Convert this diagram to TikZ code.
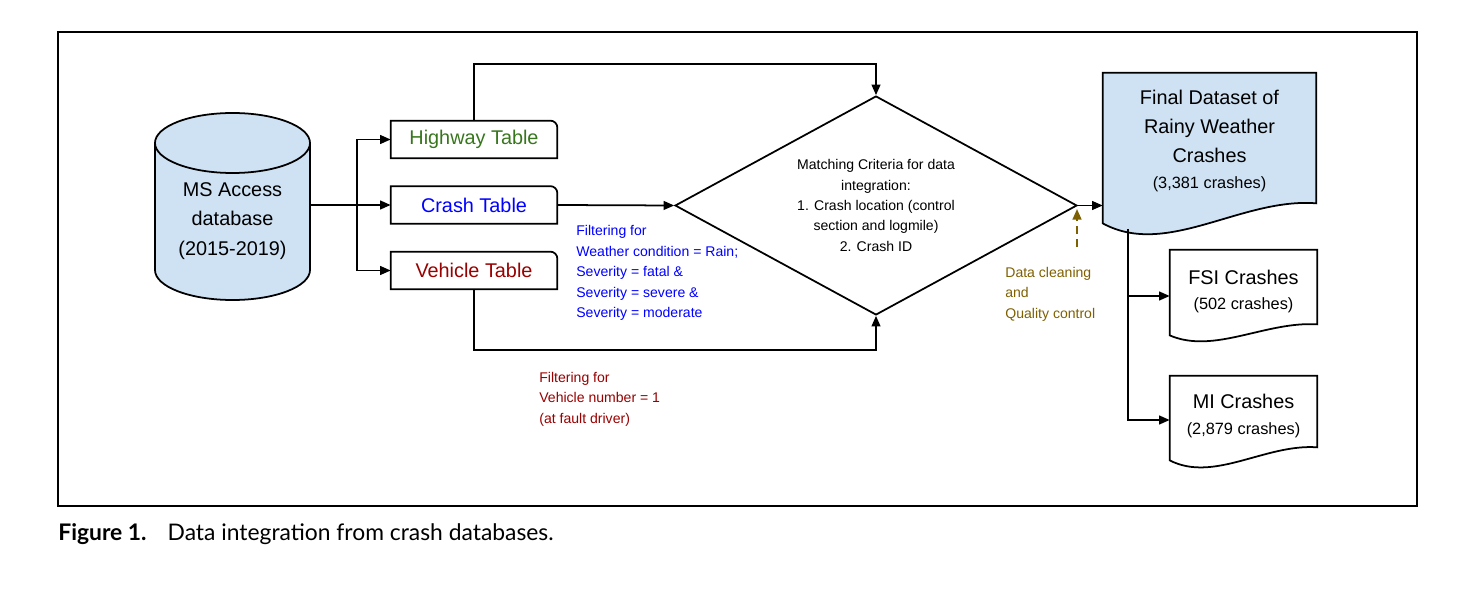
\documentclass[tikz,border=0pt]{standalone}
\usepackage{fontspec}
\setmainfont{Liberation Sans}
\newfontfamily\capfont{Lato}
\usetikzlibrary{calc,shapes.geometric,arrows.meta,backgrounds}
\definecolor{dbblue}{HTML}{CFE2F3}
\definecolor{hwygreen}{HTML}{38761D}
\definecolor{crashblue}{HTML}{0000FF}
\definecolor{vehred}{HTML}{990000}
\definecolor{qcbrown}{HTML}{7F6000}
\def\tabshape#1{\draw[outline] (#1.south west) -- (#1.north west) -- ([xshift=-4pt]#1.north east) to[out=0,in=90] ([yshift=-4pt]#1.north east) -- (#1.south east) -- cycle;}
\def\docshape#1#2#3{\draw[outline,fill=#2] ($(#1.south west)+(0,#3)$) -- (#1.north west) -- (#1.north east) -- (#1.south east) .. controls ($(#1.south west)!0.65!(#1.south east)+(0,-0.3*#3)$) and ($(#1.south west)!0.3!(#1.south east)+(0,2.75*#3)$) .. ($(#1.south west)+(0,#3)$) -- cycle;}
\def\subcount{\fontsize{9.3}{12}\selectfont}

\begin{document}
\begin{tikzpicture}[x=0.02cm,y=-0.02cm,
		outline/.style={line width=1pt,draw=black},
		arr/.style={line width=1pt,-{Triangle[length=6pt,width=5pt]}},
		qcarr/.style={line width=1pt,draw=qcbrown,dash pattern=on 4.5pt off 3pt,-{Triangle[length=6pt,width=5pt]},qcbrown},
		bigtext/.style={font=\fontsize{11.3}{16.6}\selectfont},
		smalltext/.style={font=\fontsize{8}{11.6}\selectfont},
		note/.style={smalltext,align=left,anchor=west,inner sep=0pt},
		tabnode/.style={minimum width=3.32cm,minimum height=0.74cm,inner sep=0pt,bigtext},
		docnode/.style={inner sep=0pt,align=center,bigtext}]
			%%%%% START %%%%%
			
			\useasboundingbox (0,0) rectangle (1473,594);
			\draw[line width=1.1pt] (58,32) rectangle (1417,506);
			
			% database cylinder
			\draw[outline,fill=dbblue] (155,143) -- (155,270) arc[start angle=180,end angle=0,x radius=77.5,y radius=30] -- (310,143) arc[start angle=0,end angle=-180,x radius=77.5,y radius=30] -- cycle;
			\draw[outline] (155,143) arc[start angle=180,end angle=0,x radius=77.5,y radius=30];
			\node[bigtext,align=center] (db) at (232.5,221) {MS Access\\database\\(2015-2019)};
			\coordinate (dbport) at (310,205);
			\coordinate (split) at (357,205);
			
			% tables
			\node[tabnode,text=hwygreen] (hwy) at (474,139.5) {Highway Table};
			\node[tabnode,text=crashblue] (crash) at (474,205) {Crash Table};
			\node[tabnode,text=vehred] (veh) at (474,270.5) {Vehicle Table};
			\tabshape{hwy}
			\tabshape{crash}
			\tabshape{veh}
			
			% matching
			\node[diamond,outline,aspect=1.836,minimum width=8.04cm,minimum height=4.38cm,inner sep=0pt,smalltext,align=center] (match) at (876,205.5) {Matching Criteria for data\\integration:\\1. Crash location (control\\section and logmile)\\2. Crash ID};
			
			% outputs
			\node[docnode,minimum width=4.26cm,minimum height=2.6cm] (final) at (1209.5,138) {\rule{0pt}{11.6pt}Final Dataset of\\Rainy Weather\\Crashes\\[-1.5pt]\subcount (3,381 crashes)};
			\node[docnode,minimum width=2.94cm,minimum height=1.48cm] (fsi) at (1243.5,287) {\rule{0pt}{13.2pt}FSI Crashes\\[-2pt]\subcount (502 crashes)};
			\node[docnode,minimum width=2.94cm,minimum height=1.42cm] (mi) at (1243.5,411.5) {\rule{0pt}{13.2pt}MI Crashes\\[-2pt]\subcount (2,879 crashes)};
			\begin{pgfonlayer}{background}
				\docshape{final}{dbblue}{20}
				\docshape{fsi}{white}{11}
				\docshape{mi}{white}{13}
			\end{pgfonlayer}
			
			% notes
			\node[note,text=crashblue] (wxfilter) at (576,273) {Filtering for\\Weather condition = Rain;\\Severity = fatal \&\\Severity = severe \&\\Severity = moderate};
			\node[note,text=vehred] (vehfilter) at (539,399) {Filtering for\\Vehicle number = 1\\(at fault driver)};
			\node[note,text=qcbrown] (qclabel) at (1005,294) {Data cleaning\\and\\Quality control};
			
			% connectors
			\draw[line width=1pt] (dbport) -- (split);
			\draw[arr] (split) |- (hwy.west);
			\draw[arr] (split) -- (crash.west);
			\draw[arr] (split) |- (veh.west);
			\coordinate (hwyturn) at (474,64);
			\coordinate (vehturn) at (474,350);
			\draw[arr] (hwy.north) -- (hwyturn) -| (match.north);
			\draw[arr] (veh.south) -- (vehturn) -| (match.south);
			\draw[arr] (crash.east) -- (match.west);
			\draw[arr] (match.east) -- (match.east -| final.west);
			\coordinate (qcfoot) at (1077,247);
			\coordinate (qchead) at (1077,209);
			\draw[qcarr] (qcfoot) -- (qchead);
			\coordinate (fsplit) at (1128,229);
			\coordinate (fsiin) at ($(fsi.west)+(0,9)$);
			\coordinate (miin) at ($(mi.west)+(0,8.5)$);
			\draw[arr] (fsplit) |- (miin);
			\draw[arr] (fsplit |- fsiin) -- (fsiin);
			
			% caption
			\node[anchor=west,inner sep=0pt,font=\capfont\fontsize{13}{15}\selectfont] (caption) at (58,534) {\textbf{Figure 1.}\hspace{12pt}Data integration from crash databases.};
			
			%%%%% END %%%%%
		\end{tikzpicture}
\end{document}
